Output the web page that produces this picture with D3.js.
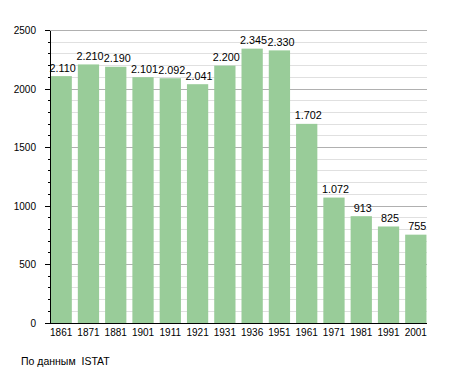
<!DOCTYPE html>
<html><head><meta charset="utf-8">
<script src="https://cdn.jsdelivr.net/npm/d3@7"></script>
<style>body{margin:0;background:#fff}svg{display:block}text{font-family:"Liberation Sans",Arial,sans-serif}</style>
</head><body><svg id="c" width="455" height="373"></svg>
<script>
const years = ["1861","1871","1881","1901","1911","1921","1931","1936","1951","1961","1971","1981","1991","2001"];
const population = [2110,2210,2190,2101,2092,2041,2200,2345,2330,1702,1072,913,825,755];
const valueLabels = ["2.110","2.210","2.190","2.101","2.092","2.041","2.200","2.345","2.330","1.702","1.072","913","825","755"];
const yMajorTicks = [0,500,1000,1500,2000,2500];
const source = "По данным  ISTAT";

const svg = d3.select("#c");
const x = d3.scaleBand().domain(years).range([50,427]).paddingInner(0.22).paddingOuter(0.02);
const y = d3.scaleLinear().domain([0,2500]).range([323,30.5]);
const minor = d3.range(0,2501,100);

// gridlines
svg.append("g").selectAll("line").data(minor.filter(v=>v%500!==0)).join("line")
  .attr("x1",50).attr("x2",427).attr("y1",d=>y(d)).attr("y2",d=>y(d))
  .attr("stroke","#e0e0e0").attr("stroke-width",1).attr("shape-rendering","crispEdges");
svg.append("g").selectAll("line").data(yMajorTicks.filter(v=>v>0)).join("line")
  .attr("x1",50).attr("x2",427).attr("y1",d=>y(d)).attr("y2",d=>y(d))
  .attr("stroke","#b0b0b0").attr("stroke-width",1).attr("shape-rendering","crispEdges");

// bars
svg.append("g").selectAll("rect").data(population).join("rect")
  .attr("x",(d,i)=>x(years[i])).attr("width",x.bandwidth())
  .attr("y",d=>y(d)).attr("height",d=>y(0)-y(d))
  .attr("fill","#99cc99");

// value labels
svg.append("g").selectAll("text").data(population).join("text")
  .attr("x",(d,i)=>x(years[i])+x.bandwidth()/2+1.5).attr("y",d=>y(d)-4.5)
  .attr("text-anchor","middle").attr("font-size",10.8).attr("fill","#000")
  .text((d,i)=>valueLabels[i]);

// y axis
const ya = svg.append("g").attr("transform","translate(50,0)");
ya.append("line").attr("x1",0).attr("x2",0).attr("y1",y(2500)).attr("y2",y(0)).attr("stroke","#000").attr("shape-rendering","crispEdges");
ya.selectAll("line.mi").data(minor).join("line").attr("class","mi")
  .attr("x1",d=>d%500===0?-5:-2.5).attr("x2",0).attr("y1",d=>y(d)).attr("y2",d=>y(d))
  .attr("stroke","#000").attr("shape-rendering","crispEdges");
ya.selectAll("text").data(yMajorTicks).join("text")
  .attr("x",-14).attr("y",d=>y(d)+3.5).attr("text-anchor","end").attr("font-size",10).text(d=>d);

// x axis
const xa = svg.append("g");
xa.append("line").attr("x1",50).attr("x2",427).attr("y1",y(0)).attr("y2",y(0)).attr("stroke","#000").attr("shape-rendering","crispEdges");
xa.selectAll("text").data(years).join("text")
  .attr("x",d=>x(d)+x.bandwidth()/2).attr("y",335.5).attr("text-anchor","middle").attr("font-size",10).text(d=>d);

svg.append("text").attr("x",21).attr("y",365).attr("font-size",10.5).attr("xml:space","preserve").style("white-space","pre").text(source);
</script></body></html>
